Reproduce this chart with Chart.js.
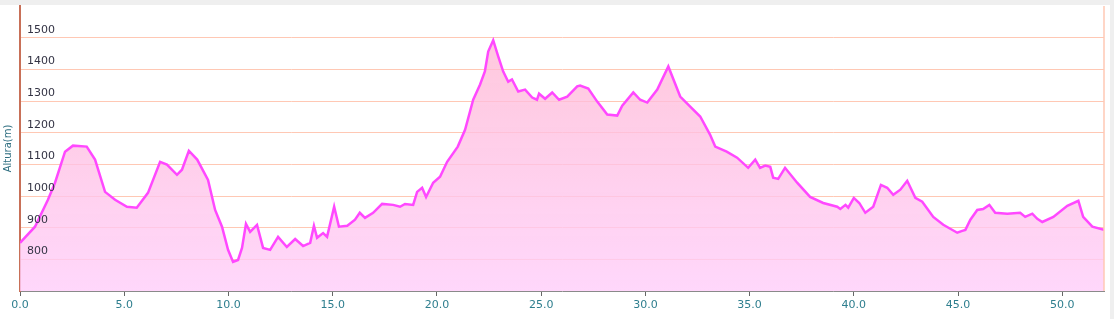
<!DOCTYPE html>
<html>
<head>
<meta charset="utf-8">
<script src="https://cdn.jsdelivr.net/npm/chart.js@4/dist/chart.umd.min.js"></script>
<style>
  html, body { margin: 0; padding: 0; background: #efefef; }
  #box { position: absolute; left: 0; top: 5px; width: 1110px; height: 314px; background: #fff; }
</style>
</head>
<body>
<div id="box"><canvas id="perfil" width="1110" height="314"></canvas></div>
<script>
// Distancia (km)
const distancia = [0,0.72,1.34,1.68,2.16,2.54,3.2,3.6,4.08,4.56,
  5.13,5.6,6.14,6.72,7.05,7.53,7.77,8.1,8.5,9.02,
  9.36,9.69,9.98,10.22,10.46,10.65,10.84,11.04,11.37,11.66,
  12.0,12.38,12.8,13.2,13.58,13.92,14.1,14.25,14.54,14.73,
  15.07,15.3,15.7,16.07,16.3,16.55,16.94,17.37,17.9,18.23,
  18.47,18.86,19.05,19.29,19.48,19.82,20.15,20.49,21.0,21.35,
  21.74,22.07,22.3,22.46,22.7,22.94,23.18,23.42,23.6,23.9,
  24.23,24.57,24.8,24.9,25.19,25.53,25.86,26.25,26.73,26.87,
  27.26,27.69,28.17,28.65,28.89,29.42,29.75,30.09,30.57,31.1,
  31.67,32.15,32.63,33.1,33.35,33.9,34.4,34.93,35.27,35.5,
  35.75,35.99,36.13,36.37,36.7,37.28,37.9,38.53,39.2,39.35,
  39.6,39.73,40.0,40.26,40.55,40.93,41.3,41.6,41.89,42.23,
  42.56,42.95,43.28,43.81,44.29,44.96,45.2,45.35,45.59,45.92,
  46.2,46.5,46.78,47.36,47.98,48.22,48.56,48.8,49.04,49.57,
  50.24,50.77,51.0,51.44,52.0];

// Altura (m)
const altura = [852,903,988,1042,1140,1159,1156,1115,1013,988,
  966,963,1010,1108,1099,1067,1083,1143,1115,1051,
  956,903,830,792,798,836,912,887,909,836,
  830,871,839,864,842,852,906,868,883,871,
  966,903,906,925,947,931,947,975,972,966,
  975,972,1013,1026,997,1042,1061,1108,1156,1209,
  1304,1352,1393,1456,1492,1441,1393,1361,1368,1330,
  1336,1311,1304,1323,1307,1327,1304,1314,1346,1349,
  1339,1298,1257,1254,1285,1327,1304,1295,1336,1409,
  1314,1282,1251,1194,1156,1140,1121,1089,1115,1089,
  1096,1092,1058,1054,1089,1042,997,978,966,959,
  972,963,994,978,947,966,1035,1026,1004,1020,
  1048,994,982,934,909,884,890,893,925,956,
  959,972,947,944,947,934,944,928,918,934,
  969,985,934,903,893];

const puntos = distancia.map((d, i) => ({ x: d, y: altura[i] }));

// borde derecho del área del gráfico
const bordeDerecho = {
  id: 'bordeDerecho',
  afterDraw(chart) {
    const a = chart.chartArea, c = chart.ctx;
    c.save();
    c.strokeStyle = '#ffc8b4';
    c.lineWidth = 1.5;
    c.beginPath();
    c.moveTo(a.right, a.top);
    c.lineTo(a.right, a.bottom);
    c.stroke();
    c.restore();
  }
};

const sinMargen = (s) => { s.paddingTop = 0; s.paddingBottom = 0; s.paddingLeft = 0; s.paddingRight = 0; };

new Chart(document.getElementById('perfil'), {
  type: 'line',
  data: {
    datasets: [{
      data: puntos,
      borderColor: '#ff48ff',
      borderWidth: 2.5,
      pointRadius: 0,
      tension: 0,
      fill: 'start',
      backgroundColor: (ctx) => {
        const a = ctx.chart.chartArea;
        if (!a) return 'rgba(255,200,240,0.8)';
        const g = ctx.chart.ctx.createLinearGradient(0, a.top, 0, a.bottom);
        g.addColorStop(0, 'rgba(255,180,205,0.75)');
        g.addColorStop(1, 'rgba(255,205,250,0.8)');
        return g;
      }
    }]
  },
  options: {
    responsive: false,
    animation: false,
    layout: { padding: { top: 1, right: 6, left: 0, bottom: 0 } },
    plugins: { legend: { display: false }, tooltip: { enabled: false } },
    scales: {
      x: {
        type: 'linear',
        min: 0,
        max: 52,
        afterFit: (s) => { s.height = 28; sinMargen(s); },
        border: { color: '#8a8a8a', width: 1 },
        grid: { drawOnChartArea: false, tickLength: 5, color: '#666' },
        ticks: {
          stepSize: 5,
          includeBounds: false,
          maxRotation: 0,
          padding: 3,
          color: '#2e7e8e',
          font: { family: 'DejaVu Sans', size: 11 },
          callback: (v) => v.toFixed(1)
        }
      },
      y: {
        min: 700,
        max: 1600,
        afterFit: (s) => { s.width = 20; sinMargen(s); },
        border: { color: '#c87058', width: 2 },
        grid: {
          drawTicks: false,
          color: (c) => (c.tick.value === 700 || c.tick.value === 1600) ? 'rgba(0,0,0,0)' : '#ffc8b4'
        },
        title: {
          display: true,
          text: 'Altura(m)',
          color: '#2e6e80',
          font: { family: 'DejaVu Sans', size: 10 },
          padding: { top: 2, bottom: 0 }
        },
        ticks: {
          stepSize: 100,
          z: 1,
          mirror: true,
          padding: 7,
          labelOffset: -8,
          color: '#333344',
          font: { family: 'DejaVu Sans', size: 11 },
          callback: (v) => (v === 700 || v === 1600) ? '' : v
        }
      }
    }
  },
  plugins: [bordeDerecho]
});
</script>
</body>
</html>
